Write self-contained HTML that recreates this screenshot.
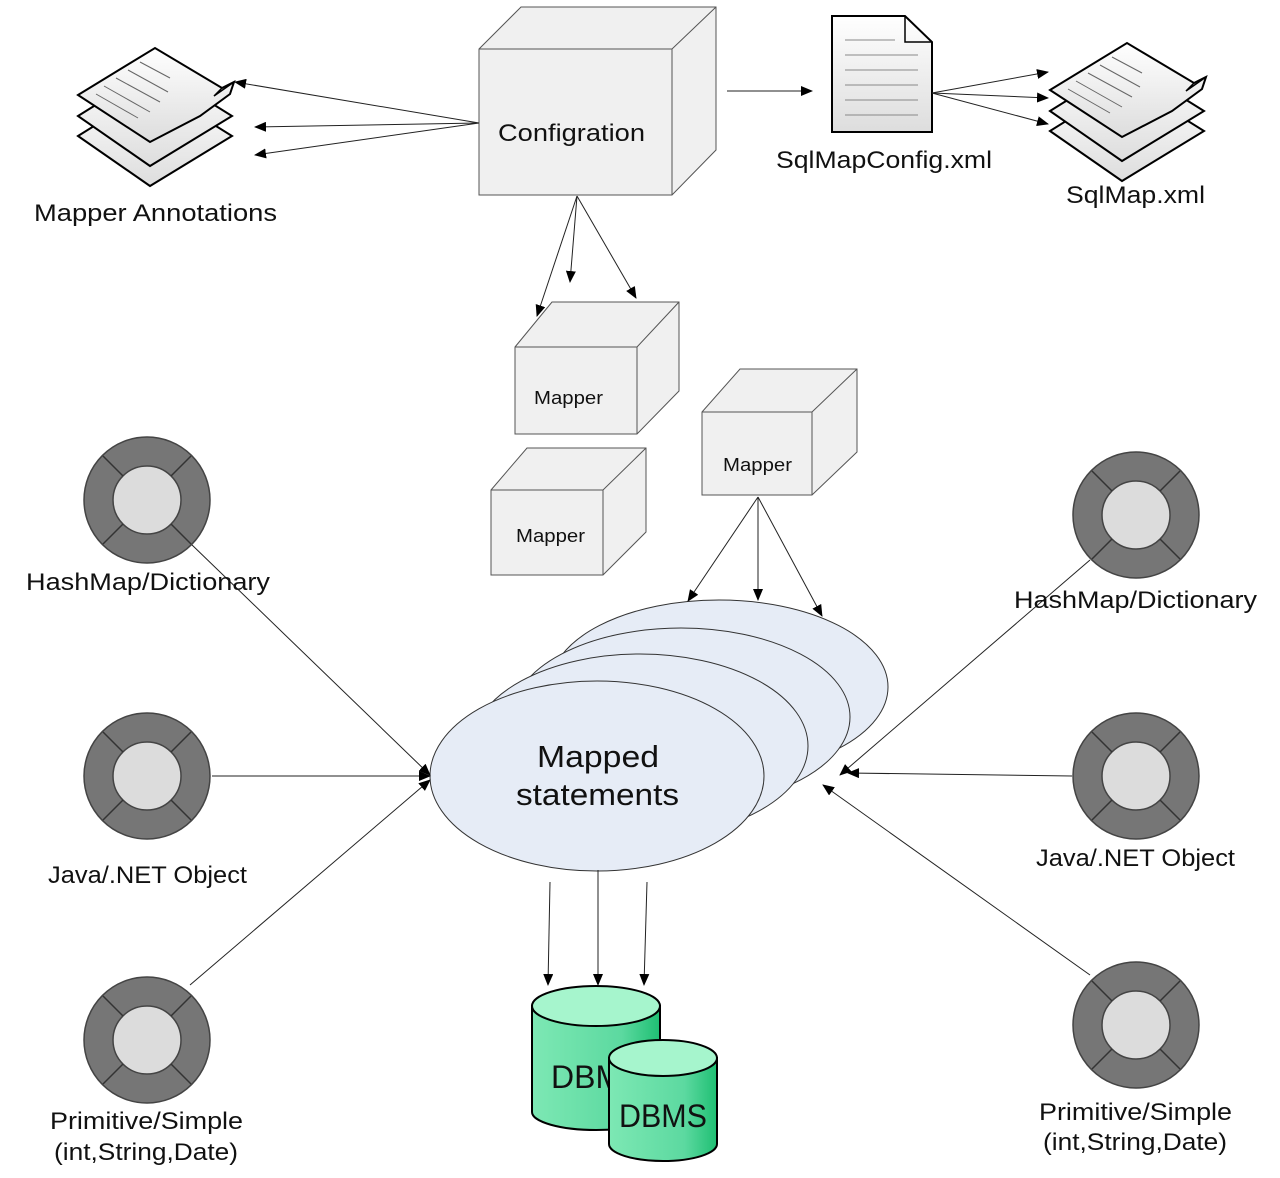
<!DOCTYPE html>
<html><head><meta charset="utf-8"><style>
html,body{margin:0;padding:0;background:#fff;width:1280px;height:1178px;overflow:hidden}
svg{display:block}
text{font-family:"Liberation Sans",sans-serif;fill:#111}
</style></head><body>
<svg width="1280" height="1178" viewBox="0 0 1280 1178" xmlns="http://www.w3.org/2000/svg">
<defs>
<marker id="a" markerWidth="12" markerHeight="10" refX="11" refY="5" orient="auto" markerUnits="userSpaceOnUse">
<path d="M0,0 L12,5 L0,10 z" fill="#000"/></marker>
<linearGradient id="g1" x1="0" x2="1"><stop offset="0" stop-color="#7de8b4"/><stop offset="0.7" stop-color="#5cd9a0"/><stop offset="1" stop-color="#1fbf73"/></linearGradient>
<linearGradient id="sheet" x1="0" y1="0" x2="0" y2="1"><stop offset="0" stop-color="#fff"/><stop offset="1" stop-color="#ddd"/></linearGradient>
</defs>
<g stroke="#555" stroke-width="1" fill="#f0f0f0">
<path d="M479,49 L521,7 L716,7 L716,150 L672,195 L479,195 Z"/>
<path d="M479,49 L672,49 L716,7 M672,49 L672,195" fill="none"/>
<path d="M515,347 L552,302 L679,302 L679,391 L637,434 L515,434 Z"/>
<path d="M515,347 L637,347 L679,302 M637,347 L637,434" fill="none"/>
<path d="M491,490 L527,448 L646,448 L646,532 L603,575 L491,575 Z"/>
<path d="M491,490 L603,490 L646,448 M603,490 L603,575" fill="none"/>
<path d="M702,412 L740,369 L857,369 L857,452 L812,495 L702,495 Z"/>
<path d="M702,412 L812,412 L857,369 M812,412 L812,495" fill="none"/>
</g>
<text x="498" y="141" font-size="24" textLength="147" lengthAdjust="spacingAndGlyphs" fill="#2a4a3a">Configration</text>
<text x="534" y="404" font-size="18" textLength="69" lengthAdjust="spacingAndGlyphs">Mapper</text>
<text x="516" y="542" font-size="18" textLength="69" lengthAdjust="spacingAndGlyphs">Mapper</text>
<text x="723" y="471" font-size="18" textLength="69" lengthAdjust="spacingAndGlyphs">Mapper</text>

<g id="stack" stroke="#000" stroke-width="2" fill="url(#sheet)">
<path d="M78,136 L155,88 L232,136 L150,186 Z"/>
<path d="M78,116 L155,68 L232,116 L150,166 Z"/>
<path d="M78,95 L155,48 L222,88 L222,88 L234,82 L230,94 L200,116 L150,142 Z"/>
<path d="M222,88 L214,96 L234,82" fill="none" stroke-width="1.5"/>
<g stroke="#666" stroke-width="1"><line x1="140" y1="62" x2="170" y2="78"/><line x1="128" y1="70" x2="168" y2="92"/><line x1="116" y1="78" x2="160" y2="102"/><line x1="104" y1="86" x2="150" y2="112"/><line x1="96" y1="94" x2="138" y2="118"/></g>
</g>
<use href="#stack" transform="translate(972,-5)"/>
<path d="M832,16 L905,16 L932,42 L932,132 L832,132 Z" fill="url(#sheet)" stroke="#000" stroke-width="2"/>
<path d="M905,16 L905,42 L932,42" fill="none" stroke="#000" stroke-width="1.5"/>
<g stroke="#888"><line x1="845" y1="40" x2="895" y2="40"/><line x1="845" y1="55" x2="918" y2="55"/><line x1="845" y1="70" x2="918" y2="70"/><line x1="845" y1="85" x2="918" y2="85"/><line x1="845" y1="100" x2="918" y2="100"/><line x1="845" y1="115" x2="918" y2="115"/></g>

<text x="34" y="221" font-size="24" textLength="243" lengthAdjust="spacingAndGlyphs">Mapper Annotations</text>
<text x="776" y="168" font-size="24" textLength="216" lengthAdjust="spacingAndGlyphs">SqlMapConfig.xml</text>
<text x="1066" y="203" font-size="24" textLength="139" lengthAdjust="spacingAndGlyphs">SqlMap.xml</text>

<g stroke="#333" stroke-width="1" fill="#e6ecf6">
<ellipse cx="719" cy="687" rx="169" ry="87"/>
<ellipse cx="681" cy="717" rx="169" ry="89"/>
<ellipse cx="640" cy="746" rx="168" ry="92"/>
<ellipse cx="597" cy="776" rx="167" ry="95"/>
</g>
<text x="537" y="767" font-size="31" textLength="122" lengthAdjust="spacingAndGlyphs">Mapped</text>
<text x="516" y="805" font-size="31" textLength="163" lengthAdjust="spacingAndGlyphs">statements</text>

<g stroke="#222" stroke-width="1" fill="none" marker-end="url(#a)">
<line x1="479" y1="123" x2="235" y2="82"/>
<line x1="479" y1="123" x2="255" y2="127"/>
<line x1="479" y1="123" x2="255" y2="155"/>
<line x1="727" y1="91" x2="812" y2="91"/>
<line x1="932" y1="93" x2="1048" y2="72"/>
<line x1="932" y1="93" x2="1048" y2="98"/>
<line x1="932" y1="93" x2="1048" y2="124"/>
<line x1="577" y1="196" x2="537" y2="316"/>
<line x1="577" y1="196" x2="570" y2="282"/>
<line x1="577" y1="196" x2="636" y2="298"/>
<line x1="758" y1="497" x2="688" y2="601"/>
<line x1="758" y1="497" x2="758" y2="600"/>
<line x1="758" y1="497" x2="822" y2="616"/>
<line x1="190" y1="543" x2="430" y2="775"/>
<line x1="212" y1="776" x2="430" y2="776"/>
<line x1="190" y1="985" x2="430" y2="780"/>
<line x1="1090" y1="560" x2="840" y2="775"/>
<line x1="1072" y1="776" x2="848" y2="773"/>
<line x1="1090" y1="975" x2="823" y2="785"/>
<line x1="550" y1="882" x2="548" y2="985"/>
<line x1="598" y1="870" x2="598" y2="985"/>
<line x1="647" y1="882" x2="644" y2="985"/>
</g>

<g id="c1">
<circle cx="147" cy="500" r="63" fill="#767676" stroke="#444" stroke-width="1.5"/>
<circle cx="147" cy="500" r="34" fill="#dcdcdc" stroke="#444" stroke-width="1.5"/>
<g stroke="#333" stroke-width="1.5"><line x1="103" y1="456" x2="123" y2="476"/><line x1="191" y1="456" x2="171" y2="476"/><line x1="103" y1="544" x2="123" y2="524"/><line x1="191" y1="544" x2="171" y2="524"/></g>
</g>
<use href="#c1" transform="translate(0,276)"/>
<use href="#c1" transform="translate(0,540)"/>
<use href="#c1" transform="translate(989,15)"/>
<use href="#c1" transform="translate(989,276)"/>
<use href="#c1" transform="translate(989,525)"/>

<g font-size="24">
<text x="26" y="590" textLength="244" lengthAdjust="spacingAndGlyphs">HashMap/Dictionary</text>
<text x="48" y="883" textLength="199" lengthAdjust="spacingAndGlyphs">Java/.NET Object</text>
<text x="50" y="1129" textLength="193" lengthAdjust="spacingAndGlyphs">Primitive/Simple</text>
<text x="54" y="1160" textLength="184" lengthAdjust="spacingAndGlyphs">(int,String,Date)</text>
<text x="1014" y="608" textLength="243" lengthAdjust="spacingAndGlyphs">HashMap/Dictionary</text>
<text x="1036" y="866" textLength="199" lengthAdjust="spacingAndGlyphs">Java/.NET Object</text>
<text x="1039" y="1120" textLength="193" lengthAdjust="spacingAndGlyphs">Primitive/Simple</text>
<text x="1043" y="1150" textLength="184" lengthAdjust="spacingAndGlyphs">(int,String,Date)</text>
</g>

<g stroke="#000" stroke-width="2">
<path d="M532,1006 L532,1112 A64,18 0 0 0 660,1112 L660,1006 Z" fill="url(#g1)"/>
<ellipse cx="596" cy="1006" rx="64" ry="20" fill="#a6f5cd"/>
</g>
<text x="551" y="1088" font-size="32">DBM</text>
<g stroke="#000" stroke-width="2">
<path d="M609,1058 L609,1144 A54,17 0 0 0 717,1144 L717,1058 Z" fill="url(#g1)"/>
<ellipse cx="663" cy="1058" rx="54" ry="18" fill="#a6f5cd"/>
</g>
<text x="619" y="1127" font-size="32" textLength="88" lengthAdjust="spacingAndGlyphs">DBMS</text>
</svg>
</body></html>
